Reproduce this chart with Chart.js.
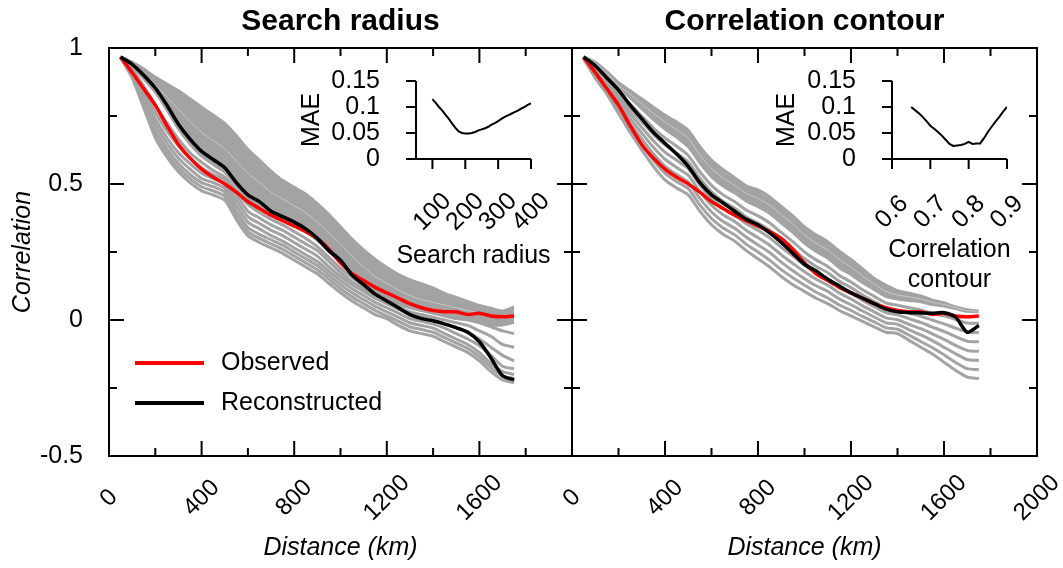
<!DOCTYPE html>
<html>
<head>
<meta charset="utf-8">
<script src="https://cdn.jsdelivr.net/npm/chart.js@4.4.1/dist/chart.umd.min.js"></script>
<style>
  body { margin: 0; background: #fff; }
  #wrap { position: relative; width: 1063px; height: 568px; overflow: hidden; }
  canvas { position: absolute; top: 0; }
</style>
</head>
<body>
<div id="wrap">
  <canvas id="radiusPanel" width="580" height="568" style="left:0"></canvas>
  <canvas id="contourPanel" width="583" height="568" style="left:480px"></canvas>
  <canvas id="radiusInset" width="262" height="230" style="left:297px;top:60px"></canvas>
  <canvas id="contourInset" width="290" height="240" style="left:772px;top:60px"></canvas>
</div>
<script>
// distance bins (km)
const distances = [50,100,150,200,250,300,350,400,450,500,550,600,650,700,750,800,850,900,950,1000,
  1050,1100,1150,1200,1250,1300,1350,1400,1450,1500,1550,1600,1650,1700,1750];

const distanceTicks = [0,200,400,600,800,1000,1200,1400,1600,1800,2000];
const radiusDistanceLabels = [0,400,800,1200,1600];
const contourDistanceLabels = [0,400,800,1200,1600,2000];
const corrTicks = [-0.5,-0.25,0,0.25,0.5,0.75,1];
const corrLabels = [-0.5,0,0.5,1];

// observed correlation decay (same in both panels)
const observed = [0.967,0.91,0.85,0.79,0.715,0.645,0.595,0.555,0.525,0.50,0.47,0.435,0.41,0.385,0.365,0.345,0.325,0.30,0.26,0.21,
  0.17,0.145,0.12,0.10,0.08,0.06,0.045,0.035,0.03,0.03,0.02,0.025,0.015,0.012,0.015];

// best reconstruction, search radius panel
const reconRadius = [0.967,0.94,0.90,0.853,0.79,0.72,0.665,0.62,0.59,0.56,0.505,0.46,0.435,0.40,0.38,0.36,0.335,0.30,0.255,0.22,
  0.165,0.13,0.095,0.07,0.045,0.02,0.005,-0.003,-0.015,-0.028,-0.045,-0.08,-0.14,-0.205,-0.22];

// best reconstruction, correlation contour panel
const reconContour = [0.967,0.935,0.89,0.845,0.79,0.74,0.69,0.65,0.61,0.565,0.505,0.46,0.43,0.40,0.37,0.35,0.32,0.285,0.245,0.205,
  0.18,0.15,0.125,0.10,0.08,0.06,0.04,0.03,0.027,0.026,0.025,0.027,0.01,-0.045,-0.02];

// other search radii: upper edge, bottom of the dense bundle, a light strand, and the spread lower runs
const radiusUpper = [0.97,0.95,0.925,0.895,0.87,0.845,0.815,0.785,0.755,0.725,0.68,0.63,0.59,0.55,0.515,0.49,0.465,0.43,0.39,0.345,
  0.30,0.26,0.225,0.195,0.17,0.15,0.135,0.12,0.10,0.085,0.07,0.055,0.045,0.035,0.05];
const radiusDense = [0.966,0.93,0.885,0.835,0.77,0.70,0.645,0.60,0.57,0.54,0.49,0.445,0.42,0.39,0.37,0.35,0.325,0.29,0.25,0.21,
  0.165,0.135,0.105,0.08,0.06,0.045,0.035,0.03,0.02,0.01,0.0,-0.01,-0.02,-0.02,-0.01];
const radiusLight = [0.968,0.94,0.905,0.865,0.82,0.775,0.73,0.69,0.66,0.63,0.585,0.54,0.505,0.47,0.445,0.42,0.395,0.36,0.32,0.28,
  0.235,0.195,0.16,0.135,0.11,0.09,0.075,0.065,0.055,0.045,0.035,0.025,0.015,0.01,0.02];
const radiusRuns = [
  [0.965,0.89,0.78,0.67,0.60,0.545,0.505,0.475,0.46,0.44,0.37,0.31,0.285,0.265,0.245,0.22,0.195,0.17,0.135,0.10,
   0.07,0.045,0.02,0.005,-0.02,-0.04,-0.05,-0.06,-0.08,-0.10,-0.12,-0.15,-0.19,-0.22,-0.23],
  [0.965,0.895,0.79,0.685,0.615,0.56,0.52,0.49,0.475,0.455,0.385,0.325,0.30,0.28,0.26,0.235,0.21,0.185,0.15,0.115,
   0.085,0.06,0.035,0.015,-0.005,-0.025,-0.035,-0.045,-0.065,-0.085,-0.105,-0.135,-0.175,-0.205,-0.215],
  [0.966,0.90,0.80,0.70,0.63,0.575,0.535,0.505,0.49,0.47,0.40,0.34,0.315,0.295,0.275,0.25,0.225,0.20,0.165,0.13,
   0.10,0.075,0.05,0.03,0.01,-0.01,-0.02,-0.03,-0.05,-0.07,-0.09,-0.12,-0.16,-0.19,-0.20],
  [0.966,0.905,0.815,0.72,0.65,0.595,0.555,0.52,0.505,0.485,0.42,0.36,0.335,0.31,0.29,0.265,0.24,0.215,0.18,0.145,
   0.115,0.09,0.065,0.045,0.025,0.005,-0.005,-0.015,-0.03,-0.05,-0.07,-0.095,-0.13,-0.17,-0.18],
  [0.967,0.91,0.83,0.74,0.67,0.615,0.575,0.54,0.52,0.50,0.44,0.38,0.355,0.33,0.31,0.285,0.26,0.235,0.195,0.16,
   0.13,0.105,0.08,0.06,0.04,0.02,0.01,0.0,-0.015,-0.03,-0.045,-0.07,-0.10,-0.13,-0.15],
  [0.967,0.915,0.845,0.765,0.695,0.64,0.595,0.56,0.535,0.515,0.46,0.40,0.375,0.35,0.33,0.305,0.28,0.255,0.215,0.175,
   0.14,0.115,0.09,0.07,0.05,0.03,0.02,0.01,0.0,-0.01,-0.02,-0.04,-0.06,-0.09,-0.10],
  [0.967,0.92,0.86,0.79,0.725,0.665,0.615,0.58,0.55,0.525,0.475,0.425,0.395,0.37,0.35,0.325,0.30,0.27,0.23,0.19,
   0.155,0.125,0.10,0.08,0.06,0.045,0.035,0.025,0.015,0.005,0.0,-0.01,-0.025,-0.04,-0.05]
];

// other correlation contours
const contourUpper = [0.97,0.95,0.915,0.875,0.845,0.815,0.785,0.755,0.73,0.70,0.64,0.59,0.555,0.525,0.495,0.48,0.455,0.42,0.385,0.345,
  0.315,0.29,0.255,0.225,0.19,0.155,0.13,0.11,0.10,0.09,0.075,0.065,0.05,0.04,0.035];
const contourDense = [0.968,0.94,0.90,0.855,0.815,0.775,0.735,0.70,0.67,0.635,0.575,0.525,0.49,0.465,0.435,0.415,0.39,0.355,0.32,0.28,
  0.25,0.225,0.19,0.165,0.135,0.11,0.085,0.075,0.07,0.065,0.055,0.05,0.04,0.03,0.03];
const contourLight = [0.969,0.945,0.907,0.862,0.83,0.795,0.76,0.728,0.70,0.668,0.607,0.557,0.522,0.495,0.465,0.447,0.422,0.387,0.352,0.312,
  0.282,0.257,0.222,0.195,0.162,0.132,0.105,0.092,0.085,0.077,0.065,0.057,0.045,0.035,0.032];
const contourRuns = [
  [0.96,0.89,0.83,0.76,0.69,0.625,0.565,0.515,0.485,0.46,0.40,0.35,0.315,0.29,0.255,0.225,0.195,0.16,0.13,0.105,
   0.08,0.06,0.035,0.015,-0.005,-0.025,-0.045,-0.05,-0.075,-0.10,-0.125,-0.155,-0.185,-0.21,-0.215],
  [0.961,0.897,0.839,0.772,0.706,0.645,0.587,0.539,0.509,0.483,0.423,0.373,0.338,0.313,0.278,0.25,0.22,0.185,0.155,0.128,
   0.102,0.081,0.055,0.035,0.013,-0.007,-0.028,-0.034,-0.056,-0.079,-0.102,-0.128,-0.156,-0.179,-0.183],
  [0.962,0.904,0.849,0.786,0.724,0.666,0.611,0.565,0.535,0.507,0.447,0.397,0.362,0.337,0.304,0.276,0.248,0.213,0.181,0.152,
   0.126,0.105,0.077,0.056,0.033,0.011,-0.01,-0.016,-0.036,-0.055,-0.076,-0.10,-0.124,-0.145,-0.149],
  [0.963,0.911,0.859,0.799,0.741,0.687,0.635,0.591,0.561,0.532,0.472,0.422,0.387,0.362,0.329,0.303,0.275,0.24,0.208,0.177,
   0.15,0.128,0.099,0.077,0.052,0.03,0.008,0.001,-0.016,-0.032,-0.051,-0.071,-0.093,-0.112,-0.115],
  [0.964,0.918,0.869,0.812,0.759,0.708,0.659,0.617,0.587,0.556,0.496,0.446,0.411,0.386,0.354,0.33,0.302,0.267,0.235,0.201,
   0.174,0.151,0.12,0.098,0.072,0.049,0.027,0.019,0.005,-0.009,-0.026,-0.042,-0.061,-0.078,-0.08],
  [0.966,0.925,0.878,0.826,0.776,0.729,0.682,0.643,0.613,0.581,0.521,0.471,0.436,0.411,0.379,0.356,0.33,0.295,0.261,0.226,
   0.197,0.174,0.142,0.119,0.092,0.068,0.045,0.036,0.025,0.014,0.0,-0.014,-0.03,-0.044,-0.046],
  [0.967,0.932,0.888,0.839,0.794,0.75,0.706,0.669,0.639,0.605,0.545,0.495,0.46,0.435,0.404,0.383,0.357,0.322,0.288,0.25,
   0.221,0.197,0.164,0.14,0.111,0.087,0.063,0.054,0.045,0.037,0.024,0.015,0.002,-0.011,-0.012]
];

// inset: MAE against search radius (km)
const searchRadius = [100,110,120,130,140,150,160,170,180,190,200,210,220,230,240,250,260,270,280,290,
  300,310,320,330,340,350,360,370,380,390,400];
const maeRadius = [0.115,0.108,0.10,0.093,0.085,0.077,0.068,0.06,0.053,0.05,0.049,0.049,0.05,0.052,0.055,0.057,0.059,0.062,0.066,0.069,
  0.073,0.077,0.081,0.084,0.087,0.09,0.093,0.097,0.10,0.104,0.107];
const radiusTicks = [100,200,300,400];
const radiusTickLabels = ['100','200','300','400'];

// inset: MAE against correlation contour
const contourLevels = [0.65,0.66,0.67,0.68,0.69,0.70,0.71,0.72,0.73,0.74,0.75,0.76,0.77,0.78,0.79,0.80,0.81,0.82,0.83,0.84,
  0.85,0.86,0.87,0.88,0.89,0.90];
const maeContour = [0.10,0.094,0.088,0.081,0.073,0.064,0.058,0.052,0.045,0.037,0.029,0.025,0.026,0.027,0.029,0.033,0.029,0.030,0.030,0.04,
  0.052,0.062,0.072,0.081,0.091,0.10];
const contourTicks = [0.6,0.7,0.8,0.9];
const contourTickLabels = ['0.6','0.7','0.8','0.9'];

const maeTicks = [0,0.05,0.1,0.15];
const maeTickLabels = ['0','0.05','0.1','0.15'];

const FONT = "'Liberation Sans', Arial, sans-serif";
Chart.defaults.font.family = FONT;
Chart.defaults.color = '#000';

const GRAY = '#a3a3a3';
const pts = arr => distances.map((d, i) => ({ x: d, y: arr[i] }));

function panelDatasets(recon, upper, dense, light, runs) {
  const sets = [
    { label: 'Reconstructed', data: pts(recon), borderColor: '#000', borderWidth: 3.5, order: 0 },
    { label: 'Observed', data: pts(observed), borderColor: '#ff0000', borderWidth: 3.5, order: 1 },
    { data: pts(upper), borderColor: GRAY, borderWidth: 2, order: 3 },
    { data: pts(dense), borderColor: GRAY, backgroundColor: GRAY, borderWidth: 2, fill: '-1', order: 3 },
    { data: pts(light), borderColor: '#c8c8c8', borderWidth: 1, order: 2 }
  ];
  runs.forEach(r => sets.push({ data: pts(r), borderColor: GRAY, borderWidth: 3, order: 3 }));
  return sets;
}

// text rotated 45 degrees, centred on (cx, cy)
function slanted(ctx, text, cx, cy, size) {
  ctx.save();
  ctx.translate(cx, cy);
  ctx.rotate(-Math.PI / 4);
  ctx.font = size + 'px ' + FONT;
  ctx.textAlign = 'center';
  ctx.textBaseline = 'middle';
  ctx.fillStyle = '#000';
  ctx.fillText(text, 0, 0);
  ctx.restore();
}

// box around the plot with inward ticks on all four sides, plus slanted distance labels
const framePlugin = {
  id: 'frame',
  afterDatasetsDraw(chart, args, opts) {
    const { ctx, chartArea: a, scales: { x, y } } = chart;
    ctx.save();
    ctx.strokeStyle = '#000';
    ctx.lineWidth = 2;
    ctx.strokeRect(a.left, a.top, a.right - a.left, a.bottom - a.top);
    ctx.beginPath();
    distanceTicks.forEach(v => {
      const px = x.getPixelForValue(v);
      const len = v % 400 === 0 ? 15 : 8;
      ctx.moveTo(px, a.bottom); ctx.lineTo(px, a.bottom - len);
      ctx.moveTo(px, a.top); ctx.lineTo(px, a.top + len);
    });
    corrTicks.forEach(v => {
      const py = y.getPixelForValue(v);
      const len = (v * 2) % 1 === 0 ? 15 : 8;
      ctx.moveTo(a.left, py); ctx.lineTo(a.left + len, py);
      ctx.moveTo(a.right, py); ctx.lineTo(a.right - len, py);
    });
    ctx.stroke();
    ctx.restore();
    opts.labels.forEach(v => slanted(ctx, String(v), x.getPixelForValue(v), a.bottom + 42, 24));
  }
};

// line key for observed / reconstructed
const keyPlugin = {
  id: 'lineKey',
  afterDraw(chart) {
    const { ctx, chartArea: a } = chart;
    const items = ['Observed', 'Reconstructed'].map(n => chart.data.datasets.find(d => d.label === n));
    ctx.save();
    ctx.font = '25px ' + FONT;
    ctx.textBaseline = 'middle';
    items.forEach((ds, i) => {
      const yy = a.top + 315 + i * 40;
      ctx.strokeStyle = ds.borderColor;
      ctx.lineWidth = 4;
      ctx.beginPath();
      ctx.moveTo(a.left + 26, yy);
      ctx.lineTo(a.left + 95, yy);
      ctx.stroke();
      ctx.fillStyle = '#000';
      ctx.fillText(ds.label, a.left + 112, yy);
    });
    ctx.restore();
  }
};

function makePanel(id, opts) {
  return new Chart(document.getElementById(id), {
    type: 'line',
    data: { datasets: opts.datasets },
    options: {
      responsive: false,
      animation: false,
      layout: { padding: { top: 0, right: opts.padRight, bottom: 0, left: 0 } },
      elements: { point: { radius: 0 }, line: { tension: 0.25 } },
      plugins: {
        legend: { display: false },
        tooltip: { enabled: false },
        title: {
          display: true, text: opts.title, fullSize: false, color: '#000',
          font: { size: 30, weight: 'bold' }, padding: { top: 4, bottom: 8 }
        },
        frame: { labels: opts.xLabels }
      },
      scales: {
        x: {
          type: 'linear', min: 0, max: 2000,
          grid: { display: false }, border: { display: false },
          afterBuildTicks: s => { s.ticks = distanceTicks.map(v => ({ value: v })); },
          afterFit: s => { s.height = 112; s.paddingLeft = 0; s.paddingRight = 0; },
          ticks: { display: false },
          title: { display: true, text: 'Distance (km)', font: { size: 25, style: 'italic' }, padding: { top: 0, bottom: 5 } }
        },
        y: {
          min: -0.5, max: 1,
          grid: { display: false }, border: { display: false },
          afterBuildTicks: s => { s.ticks = corrTicks.map(v => ({ value: v })); },
          afterFit: s => { s.width = opts.yWidth; s.paddingTop = 0; s.paddingBottom = 0; },
          ticks: {
            display: opts.showY, autoSkip: false, padding: 18, font: { size: 25 },
            callback: v => corrLabels.includes(v) ? String(v) : ''
          },
          title: { display: opts.showY, text: 'Correlation', font: { size: 25, style: 'italic' }, padding: { top: 8, bottom: 0 } }
        }
      }
    },
    plugins: opts.plugins
  });
}

makePanel('radiusPanel', {
  title: 'Search radius',
  datasets: panelDatasets(reconRadius, radiusUpper, radiusDense, radiusLight, radiusRuns),
  xLabels: radiusDistanceLabels, yWidth: 109, padRight: 8, showY: true,
  plugins: [framePlugin, keyPlugin]
});

makePanel('contourPanel', {
  title: 'Correlation contour',
  datasets: panelDatasets(reconContour, contourUpper, contourDense, contourLight, contourRuns),
  xLabels: contourDistanceLabels, yWidth: 92, padRight: 26, showY: false,
  plugins: [framePlugin]
});

// L-shaped axes with outward ticks for the small MAE plots, slanted x labels and x title
const insetAxes = {
  id: 'insetAxes',
  afterDatasetsDraw(chart, args, opts) {
    const { ctx, chartArea: a, scales: { x, y } } = chart;
    const y0 = y.getPixelForValue(0);
    ctx.save();
    ctx.strokeStyle = '#000';
    ctx.lineWidth = 2;
    ctx.beginPath();
    ctx.moveTo(a.left, y.getPixelForValue(0.15));
    ctx.lineTo(a.left, y0);
    ctx.lineTo(a.right, y0);
    y.ticks.forEach(t => {
      const py = y.getPixelForValue(t.value);
      ctx.moveTo(a.left, py); ctx.lineTo(a.left - 10, py);
    });
    x.ticks.forEach(t => {
      const px = x.getPixelForValue(t.value);
      ctx.moveTo(px, y0); ctx.lineTo(px, y0 + 10);
    });
    ctx.stroke();
    ctx.restore();

    x.ticks.forEach((t, i) => slanted(ctx, opts.tickLabels[i], x.getPixelForValue(t.value), y0 + 53, 25));

    ctx.save();
    ctx.font = '25px ' + FONT;
    ctx.textAlign = 'center';
    ctx.textBaseline = 'middle';
    ctx.fillStyle = '#000';
    const cx = (a.left + a.right) / 2;
    opts.title.forEach((line, i) => ctx.fillText(line, cx, y0 + opts.titleOffset + i * 30));
    ctx.restore();
  }
};

function makeInset(id, cfg) {
  return new Chart(document.getElementById(id), {
    type: 'line',
    data: {
      datasets: [{
        data: cfg.xs.map((v, i) => ({ x: v, y: cfg.ys[i] })),
        borderColor: '#000', borderWidth: 2, pointRadius: 0, tension: 0
      }]
    },
    options: {
      responsive: false,
      animation: false,
      layout: { padding: { top: 21, right: cfg.padRight, bottom: 0, left: 0 } },
      plugins: {
        legend: { display: false },
        tooltip: { enabled: false },
        insetAxes: { tickLabels: cfg.tickLabels, title: cfg.xTitle, titleOffset: cfg.titleOffset }
      },
      scales: {
        x: {
          type: 'linear', min: cfg.xMin, max: cfg.xMax,
          grid: { display: false }, border: { display: false },
          afterBuildTicks: s => { s.ticks = cfg.ticks.map(v => ({ value: v })); },
          afterFit: s => { s.height = cfg.xHeight; s.paddingLeft = 0; s.paddingRight = 0; },
          ticks: { display: false }
        },
        y: {
          min: 0, max: 0.15,
          grid: { display: false }, border: { display: false },
          afterBuildTicks: s => { s.ticks = maeTicks.map(v => ({ value: v })); },
          afterFit: s => { s.width = cfg.yWidth; s.paddingTop = 0; s.paddingBottom = 0; },
          ticks: { autoSkip: false, padding: 28, font: { size: 25 }, callback: (v, i) => maeTickLabels[i] },
          title: { display: true, text: 'MAE', font: { size: 25 }, padding: { top: 0, bottom: 0 } }
        }
      }
    },
    plugins: [insetAxes]
  });
}

makeInset('radiusInset', {
  xs: searchRadius, ys: maeRadius, xMin: 50, xMax: 400,
  ticks: radiusTicks, tickLabels: radiusTickLabels,
  xTitle: ['Search radius'], titleOffset: 97, xHeight: 131, yWidth: 119, padRight: 28
});

makeInset('contourInset', {
  xs: contourLevels, ys: maeContour, xMin: 0.6, xMax: 0.9,
  ticks: contourTicks, tickLabels: contourTickLabels,
  xTitle: ['Correlation', 'contour'], titleOffset: 91, xHeight: 141, yWidth: 120, padRight: 55
});
</script>
</body>
</html>
